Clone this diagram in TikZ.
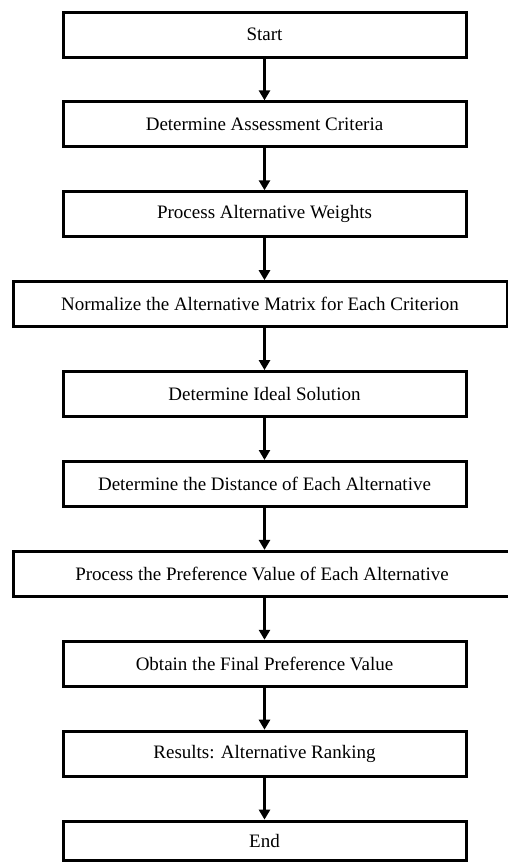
\documentclass[tikz,border=0pt]{standalone}
\usepackage{fontspec}
\setmainfont{Liberation Serif}
\usetikzlibrary{positioning,calc}
\usetikzlibrary{arrows.meta}
\tikzset{
  proc/.style={draw=black,fill=white,line width=3pt,minimum width=403pt,minimum height=45pt,
    inner sep=0pt,font=\fontsize{19}{23}\selectfont},
  flow/.style={draw=black,line width=3pt,-{Triangle[length=10pt,width=11pt]}},
}
\begin{document}
\begin{tikzpicture}[x=1pt,y=-1pt]
\useasboundingbox (0,0) rectangle (508,862);
\node[proc] (start) at (264.5,34.5) {Start};
\node[proc] (crit) at (264.5,124.4) {Determine Assessment Criteria};
\node[proc] (weig) at (264.5,214.3) {Process Alternative Weights};
\node[proc,minimum width=494pt] (norm) at (260,304.2) {Normalize the Alternative Matrix for Each Criterion};
\node[proc] (ideal) at (264.5,394.1) {Determine Ideal Solution};
\node[proc] (dist) at (264.5,484) {Determine the Distance of Each Alternative};
\node[proc,minimum width=498pt] (pref) at (262,573.9) {Process the Preference Value of Each Alternative};
\node[proc] (final) at (264.5,663.8) {Obtain the Final Preference Value};
\node[proc] (rank) at (264.5,753.7) {Results: Alternative Ranking};
\node[proc,minimum height=39pt] (end) at (264.5,840.6) {End};
\foreach \a/\b in {start/crit,crit/weig,weig/norm,norm/ideal,ideal/dist,dist/pref,pref/final,final/rank,rank/end}
  \draw[flow] (start.south |- \a.south) -- (start.south |- \b.north);
\end{tikzpicture}
\end{document}
